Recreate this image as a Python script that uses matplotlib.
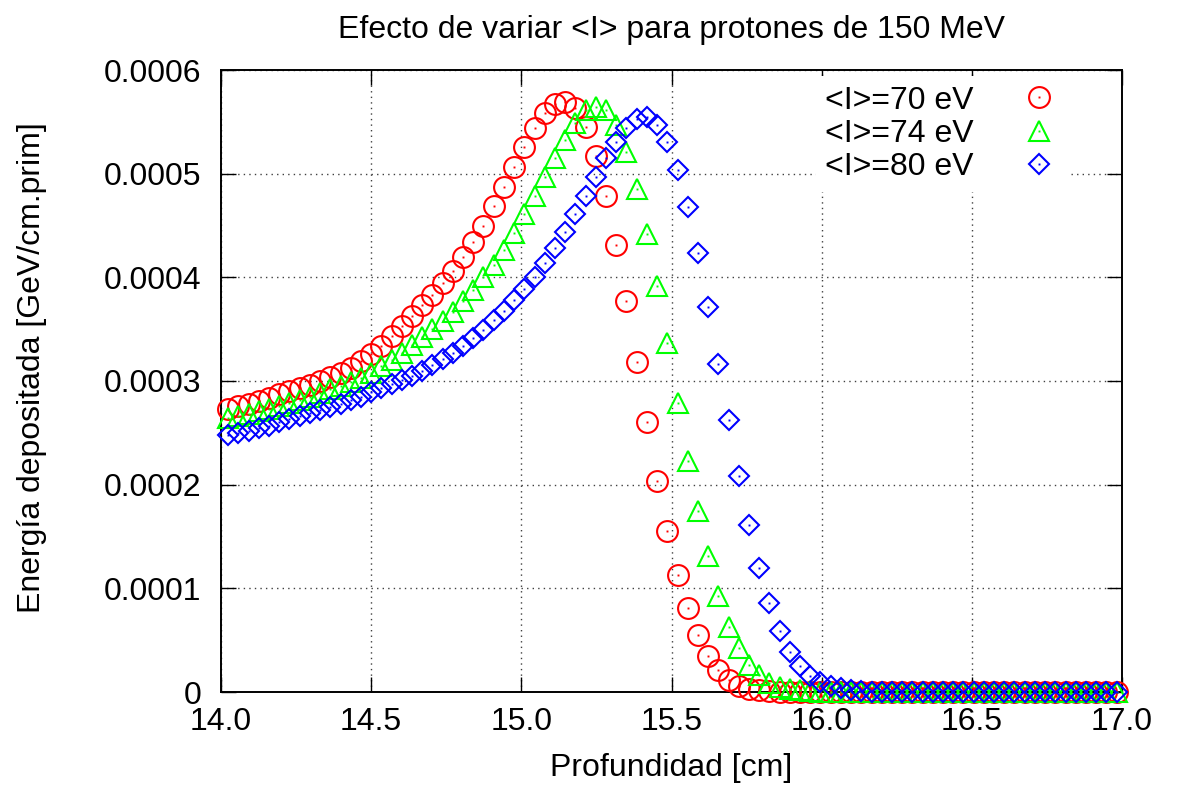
import numpy as np
import matplotlib
matplotlib.use('Agg')
import matplotlib.pyplot as plt
from matplotlib.legend_handler import HandlerTuple

plt.rcParams['font.family'] = ['Liberation Sans', 'DejaVu Sans']

# profundidad [cm], paso regular del histograma
depth = 14.024 + 0.034 * np.arange(88)

# energia depositada, en unidades de 1e-6 GeV/cm.prim
e_70 = [273, 276, 278, 281, 284, 287, 290, 293, 296, 300,
        304, 308, 313, 319, 326, 334, 343, 353, 363, 373,
        383, 395, 406, 420, 434, 450, 469, 487, 506, 526,
        544, 559, 567, 569, 563, 545, 517, 478, 431, 377,
        318, 260, 204, 155, 113, 81, 55, 35, 21, 12,
        6, 3, 2, 1, 0, 0, 0, 0, 0, 0] + [0] * 28
e_74 = [264, 266, 268, 271, 273, 276, 279, 282, 285, 288,
        292, 295, 299, 303, 308, 314, 320, 327, 335, 342,
        350, 358, 367, 377, 388, 400, 412, 426, 443, 461,
        478, 497, 515, 532, 549, 561, 564, 561, 547, 521,
        485, 442, 392, 337, 279, 223, 175, 131, 93, 63,
        42, 26, 16, 9, 5, 3, 2, 1, 0, 0] + [0] * 28
e_80 = [248, 250, 252, 255, 257, 260, 263, 266, 269, 272,
        275, 278, 282, 285, 289, 293, 297, 301, 305, 310,
        315, 321, 327, 334, 341, 349, 359, 368, 378, 389,
        400, 414, 428, 444, 461, 478, 497, 515, 531, 544,
        553, 555, 547, 531, 504, 468, 423, 371, 316, 262,
        208, 161, 120, 86, 59, 39, 25, 15, 10, 6,
        4, 2, 1] + [0] * 25

labels = ['<I>=70 eV', '<I>=74 eV', '<I>=80 eV']
colors = ['#ff0000', '#00ff00', '#0000ff']
markers = ['o', '^', 'D']
msizes = [15, 15, 10.5]

xticks = [14.0, 14.5, 15.0, 15.5, 16.0, 16.5, 17.0]
xticklabels = ['14.0', '14.5', '15.0', '15.5', '16.0', '16.5', '17.0']
yticks = [0, 0.0001, 0.0002, 0.0003, 0.0004, 0.0005, 0.0006]
yticklabels = ['0', '0.0001', '0.0002', '0.0003', '0.0004', '0.0005', '0.0006']

fs = 23

fig = plt.figure(figsize=(11.77, 7.87), dpi=100)
ax = fig.add_axes([221 / 1177, 1 - 692 / 787, 901 / 1177, 622 / 787])

handles = []
for vals, c, m, ms in zip([e_70, e_74, e_80], colors, markers, msizes):
    y = np.array(vals) * 1e-6
    h1, = ax.plot(depth, y, ls='none', marker=m, ms=ms, mfc='none', mec=c,
                  mew=1.5, clip_on=False, zorder=3)
    h2, = ax.plot(depth, y, ls='none', marker='s', ms=1.4, mfc=c, mec=c,
                  mew=0, clip_on=False, zorder=3)
    handles.append((h1, h2))

ax.set_xlim(14, 17)
ax.set_ylim(0, 0.0006)
ax.set_xticks(xticks)
ax.set_xticklabels(xticklabels)
ax.set_yticks(yticks)
ax.set_yticklabels(yticklabels)
ax.tick_params(direction='in', length=11, width=1, top=True, right=True,
               labelsize=fs, pad=11)
ax.tick_params(axis='y', pad=14)
for s in ax.spines.values():
    s.set_linewidth(1.4)
ax.grid(True, color='0.25', linestyle=(0, (1, 3)), linewidth=1)

leg = ax.legend(handles, labels, loc='upper right', markerfirst=False,
                handler_map={tuple: HandlerTuple(ndivide=1)},
                bbox_to_anchor=(1068 / 1177, 1 - 76 / 787),
                bbox_transform=fig.transFigure, fontsize=fs,
                frameon=True, fancybox=False, framealpha=1,
                edgecolor='none', facecolor='white',
                handlelength=1.2, handletextpad=1.45, labelspacing=0.1,
                borderpad=0.3, borderaxespad=0)
leg.set_zorder(5)

fig.text(671 / 1177, 1 - 30 / 787, 'Efecto de variar <I> para protones de 150 MeV',
         ha='center', va='center', fontsize=fs)
fig.text(671 / 1177, 1 - 768 / 787, 'Profundidad [cm]',
         ha='center', va='center', fontsize=fs)
fig.text(32 / 1177, 1 - 368 / 787, 'Energía depositada [GeV/cm.prim]',
         ha='center', va='center', rotation=90, fontsize=fs)

fig.savefig('out.png', dpi=100)
